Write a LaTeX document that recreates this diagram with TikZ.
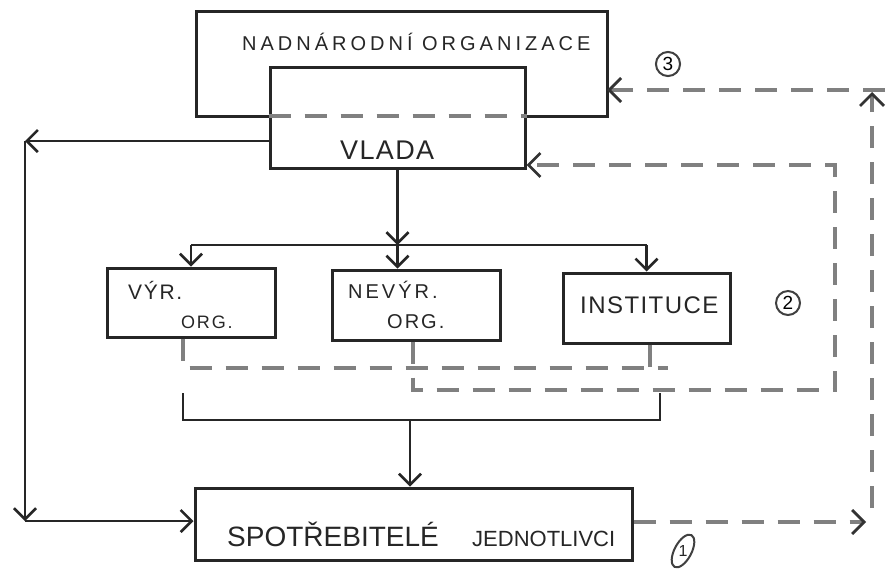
\documentclass[tikz,border=0pt]{standalone}
\usepackage{fontspec}
\setmainfont{Liberation Sans}
\usetikzlibrary{arrows.meta,shapes.geometric}
\tikzset{
  box/.style={draw=black!85, line width=3pt, inner sep=0pt},
  area/.style={inner sep=0pt},
  ln/.style={draw=black!85, line width=2.7pt},
  arr/.style={ln, -{Straight Barb[length=11pt,width=22pt,line width=2.6pt]}},
  dsh/.style={draw=black!50, line width=4.5pt, dash pattern=on 22pt off 14pt},
  darr/.style={dsh, -{Straight Barb[length=12pt,width=24pt,line width=2.8pt,color=black!80]}},
  circ/.style={draw=black!75, circle, line width=2pt, inner sep=2.5pt, font=\fontsize{19}{19}\selectfont},
  hand/.style={inner sep=0pt, text=black!85},
}
\begin{document}
\begin{tikzpicture}[x=1pt,y=-1pt]
\useasboundingbox (0,0) rectangle (889,571);
\fill[white] (0,0) rectangle (889,571);

% boxes
\node[area, name=nadn, minimum width=410pt, minimum height=104pt] at (402,64) {};
\node[box, name=vlada, minimum width=255pt, minimum height=101pt] at (397.5,117.5) {};
\node[box, name=vyr, minimum width=168pt, minimum height=69pt] at (191,302.5) {};
\node[box, name=nevyr, minimum width=168pt, minimum height=70pt] at (416,305) {};
\node[box, name=inst, minimum width=167pt, minimum height=70pt] at (646.5,308) {};
\node[box, name=spot, minimum width=437pt, minimum height=72pt] at (413.5,524) {};

% outer (supranational) frame with dashed part inside VLADA
\draw[ln, line width=3pt] (vlada.west |- nadn.south) -- (nadn.south west) -- (nadn.north west)
  -- (nadn.north east) -- (nadn.south east) -- (vlada.east |- nadn.south);
\draw[dsh] (vlada.west |- nadn.south) -- (vlada.east |- nadn.south);

% texts
\node[hand, name=tnadn, anchor=west, font=\fontsize{20}{24}\selectfont\addfontfeature{LetterSpace=20}] at (242,42) {NADNÁRODNÍ ORGANIZACE};
\node[hand, name=tvlada, anchor=west, font=\fontsize{27}{30}\selectfont\addfontfeature{LetterSpace=5}] at (340,150) {VLADA};
\node[hand, name=tvyr1, anchor=west, font=\fontsize{21}{24}\selectfont\addfontfeature{LetterSpace=8}] at (128,290) {VÝR.};
\node[hand, name=tvyr2, anchor=west, font=\fontsize{18}{22}\selectfont\addfontfeature{LetterSpace=10}] at (181,322) {ORG.};
\node[hand, name=tnev1, anchor=west, font=\fontsize{20}{24}\selectfont\addfontfeature{LetterSpace=15}] at (348,290) {NEVÝR.};
\node[hand, name=tnev2, anchor=west, font=\fontsize{20}{24}\selectfont\addfontfeature{LetterSpace=10}] at (387,322) {ORG.};
\node[hand, name=tinst, anchor=west, font=\fontsize{24}{28}\selectfont\addfontfeature{LetterSpace=6}] at (580,305) {INSTITUCE};
\node[hand, name=tspot1, font=\fontsize{28}{32}\selectfont, anchor=base west] at (227,546) {SPOTŘEBITELÉ};
\node[hand, name=tspot2, font=\fontsize{22}{26}\selectfont, anchor=base west] at (472,546) {JEDNOTLIVCI};

% circled numbers
\node[circ, name=n3] at (668,64) {3};
\node[circ, name=n2] at (788,303) {2};
\node[draw=black!75, line width=2pt, ellipse, minimum width=36pt, minimum height=17pt, rotate=62, name=n1e] at (683,551) {};
\node[hand, name=n1, font=\fontsize{16}{16}\selectfont] at (683,551) {1};

% VLADA down to the three organisations
\coordinate (bus) at (397.5,245);
\draw[arr] (vlada.south) -- (bus);
\draw[ln] (vyr.north |- bus) -- (inst.north |- bus);
\draw[arr] (vyr.north |- bus) -- (vyr.north);
\draw[arr] (bus) -- (bus |- nevyr.north);
\draw[arr] (inst.north |- bus) -- (inst.north);

% dashed feedbacks below the organisations
\coordinate (dA) at (183,368);
\coordinate (dAe) at (668,368);
\coordinate (dI) at (650,368);
\draw[dsh] (vyr.south -| dA) -- (dA) -- (dAe);
\draw[dsh] (inst.south -| dI) -- (dI);
\coordinate (dN) at (413,390);
\coordinate (dNe) at (835,390);
\coordinate (dNt) at (835,165);
\draw[darr] (nevyr.south -| dN) -- (dN) -- (dNe) -- (dNt) -- (vlada.east |- dNt);

% solid collector to consumers
\coordinate (sA0) at (183,393);
\coordinate (sA) at (183,420);
\coordinate (sB) at (660,420);
\coordinate (sB0) at (660,393);
\coordinate (sM) at (410,420);
\draw[ln] (sA0) -- (sA) -- (sB) -- (sB0);
\draw[arr] (sM) -- (spot.north -| sM);

% left loop from VLADA to consumers
\coordinate (L1) at (25,141);
\coordinate (L2) at (25,521);
\draw[arr] (vlada.west |- L1) -- (L1);
\draw[arr] (L1) -- (L2);
\draw[arr] (L2) -- (spot.west |- L2);

% right dashed loop from consumers to supranational organisation
\coordinate (R0) at (866,522);
\coordinate (R1) at (872,508);
\coordinate (R2) at (872,92);
\coordinate (R3) at (885,90);
\draw[darr] (spot.east |- R0) -- (R0);
\draw[darr] (R1) -- (R2);
\draw[darr] (R3) -- (nadn.east |- R3);
\end{tikzpicture}
\end{document}
